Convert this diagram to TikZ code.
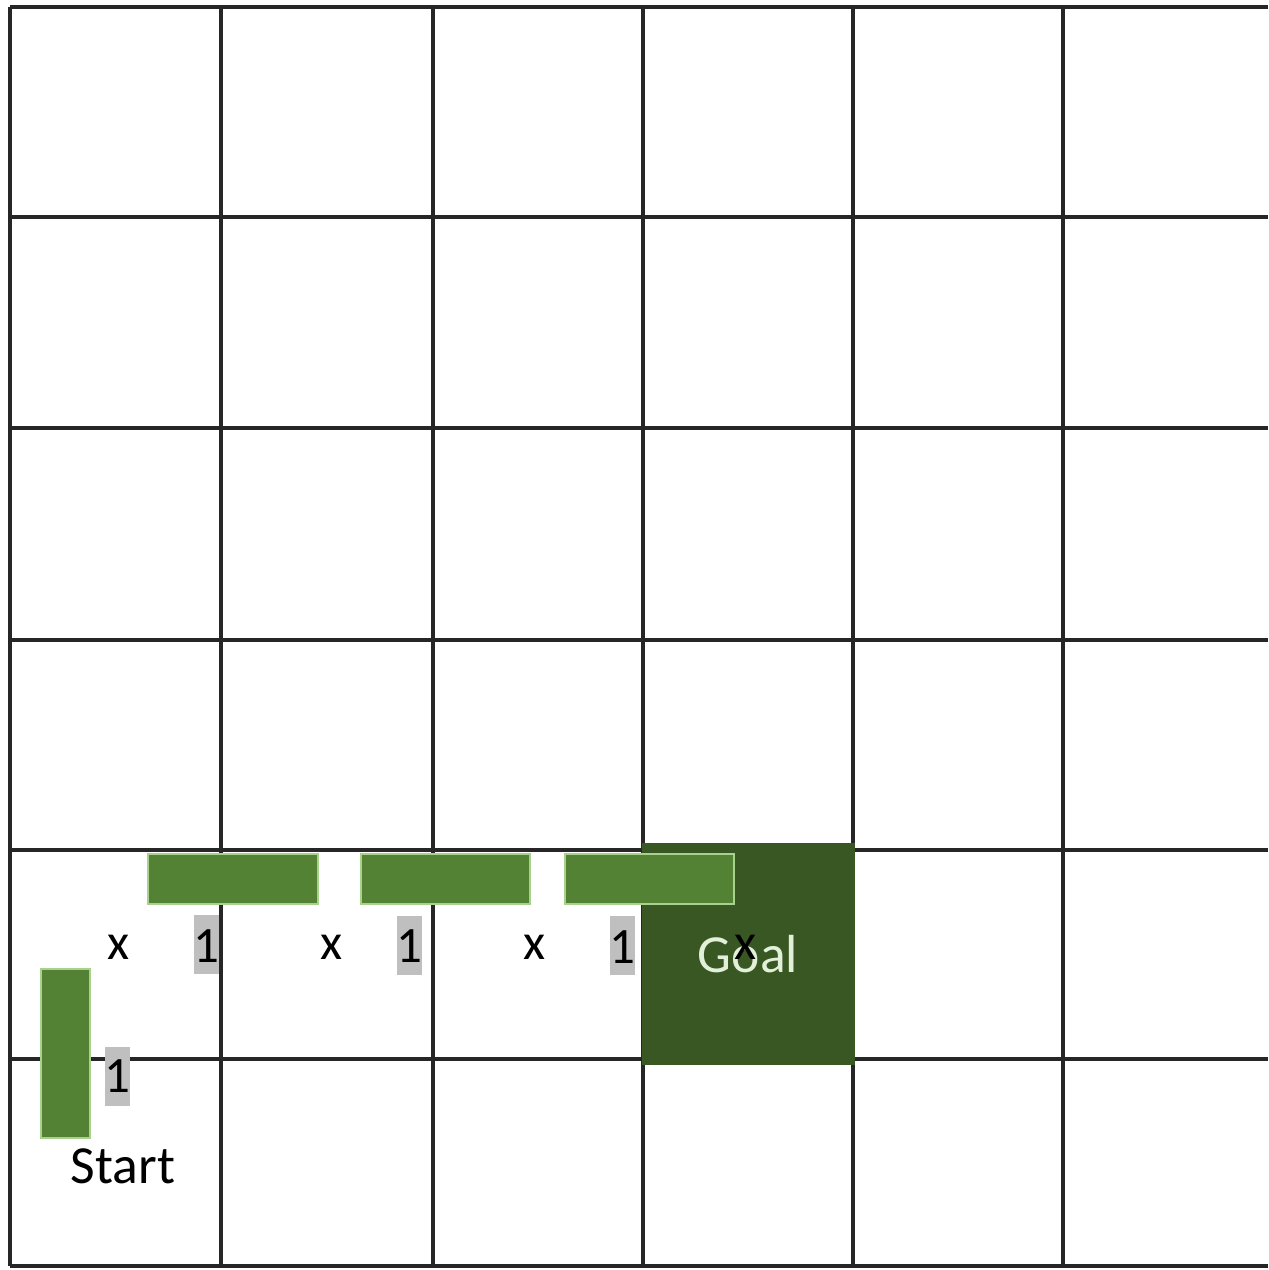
\documentclass[tikz,border=0pt]{standalone}
\usepackage{fontspec}
\setmainfont{Carlito}
\definecolor{gridcol}{HTML}{262626}
\definecolor{barfill}{HTML}{548235}
\definecolor{barline}{HTML}{A9D18E}
\definecolor{goalfill}{HTML}{385723}
\definecolor{goaltext}{HTML}{E2F0D9}
\definecolor{numgray}{HTML}{BFBFBF}
\begin{document}
\begin{tikzpicture}
[
	x=0.02cm, y=-0.02cm,
	gridline/.style={draw=gridcol,line width=0.09cm},
	hbar/.style={rectangle,draw=barline,fill=barfill,line width=0.04cm,inner sep=0pt,minimum width=3.4cm,minimum height=1cm},
	vbar/.style={rectangle,draw=barline,fill=barfill,line width=0.04cm,inner sep=0pt,minimum width=1cm,minimum height=3.4cm},
	numbox/.style={rectangle,fill=numgray,inner sep=0pt,minimum width=0.5cm,minimum height=1.18cm},
	lbl/.style={anchor=base,inner sep=0pt,font=\fontsize{29}{33}\selectfont}
]
	\useasboundingbox (0,0) rectangle (1268,1270);

	% grid
	\foreach \x in {10,221,433,643,853,1063}
		\draw[gridline] (\x,7) -- (\x,1266);
	\foreach \y in {7,217,428,640,850,1059,1266}
		\draw[gridline] (10,\y) -- (1268,\y);

	% goal cell
	\node[rectangle,fill=goalfill,inner sep=0pt,minimum width=4.26cm,minimum height=4.44cm] at (748.5,954) (goal) {};
	\node[lbl,text=goaltext,font=\fontsize{30.5}{34}\selectfont] at (748,972) (goaltxt) {Goal};

	% bars
	\node[hbar] at (233,878.5) (bara) {};
	\node[hbar] at (445.5,878.5) (barb) {};
	\node[hbar] at (649.5,878.5) (barc) {};
	\node[vbar] at (65.5,1053.5) (start) {};

	% gray boxes
	\node[numbox] at (206.5,944.5) (nbox1) {};
	\node[numbox] at (409.5,945.5) (nbox2) {};
	\node[numbox] at (622.5,945.5) (nbox3) {};
	\node[numbox] at (117.5,1076) (nbox4) {};

	% labels
	\node[lbl] at (206.5,962) (one1) {1};
	\node[lbl] at (409.5,962) (one2) {1};
	\node[lbl] at (622.5,963) (one3) {1};
	\node[lbl] at (117.5,1092) (one4) {1};

	\node[lbl] at (119,959) (xa) {x};
	\node[lbl] at (332,959) (xb) {x};
	\node[lbl] at (535,959) (xc) {x};
	\node[lbl] at (746,959) (xd) {x};

	\node[lbl,font=\fontsize{30.5}{34}\selectfont] at (123,1183) (starttxt) {Start};

\end{tikzpicture}
\end{document}
